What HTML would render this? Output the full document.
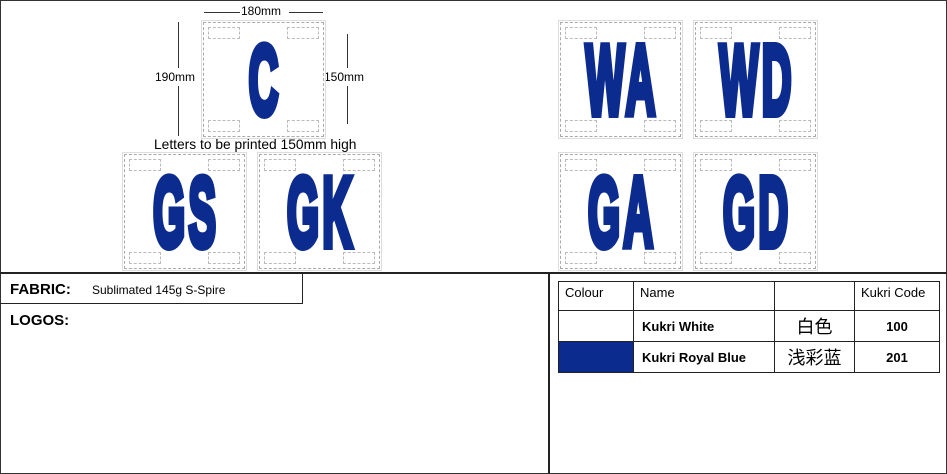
<!DOCTYPE html>
<html><head><meta charset="utf-8"><style>
*{margin:0;padding:0;box-sizing:border-box}
body{width:947px;height:474px;position:relative;background:#fff;font-family:"Liberation Sans",sans-serif;overflow:hidden}
.a{position:absolute}
.p{position:absolute;width:121px;height:115px;border:1px dashed #aaa;outline:1px solid #ddd;outline-offset:1px}
.d{position:absolute;width:32px;height:12px;border:1px dashed #bbb}
.L{position:absolute;left:-100px;right:-100px;top:50%;text-align:center;font-weight:bold;color:#0c2b8f;font-size:98px;line-height:1;white-space:nowrap;transform:translateY(-50%) scaleX(.42);letter-spacing:8px;padding-left:8px;-webkit-text-stroke:8px #0c2b8f}
td{border:1.5px solid #222;font-size:13px;padding:0 6px}
</style></head><body>
<div class="a" style="left:0;top:0;width:947px;height:474px;border:1px solid #333"></div>
<div class="a" style="left:0;top:272px;width:947px;height:2px;background:#222"></div>
<div class="a" style="left:548px;top:273px;width:2px;height:201px;background:#222"></div>
<div class="a" style="left:0;top:273px;width:303px;height:31px;border:1.5px solid #222;border-left:none"></div>
<div class="a" style="left:10px;top:281px;font-weight:bold;font-size:15px">FABRIC:</div>
<div class="a" style="left:92px;top:283px;font-size:12px">Sublimated 145g S-Spire</div>
<div class="a" style="left:10px;top:312px;font-weight:bold;font-size:15px">LOGOS:</div>

<div class="a" style="left:204px;top:12px;width:36px;height:1px;background:#333"></div>
<div class="a" style="left:241px;top:4px;font-size:12px">180mm</div>
<div class="a" style="left:289px;top:12px;width:34px;height:1px;background:#333"></div>
<div class="a" style="left:178px;top:22px;width:1px;height:114px;background:#333"></div>
<div class="a" style="left:155px;top:68px;font-size:12px;background:#fff;padding:2px 0">190mm</div>
<div class="a" style="left:347px;top:34px;width:1px;height:90px;background:#333"></div>
<div class="a" style="left:324px;top:68px;font-size:12px;background:#fff;padding:2px 0">150mm</div>
<div class="a" style="left:154px;top:137px;font-size:13.8px">Letters to be printed 150mm high</div>

<div class="p" style="left:203px;top:22px"><div class="d" style="left:4px;top:4px"></div><div class="d" style="right:4px;top:4px"></div><div class="d" style="left:4px;bottom:4px"></div><div class="d" style="right:4px;bottom:4px"></div><div class="L">C</div></div>
<div class="p" style="left:124px;top:154px"><div class="d" style="left:4px;top:4px"></div><div class="d" style="right:4px;top:4px"></div><div class="d" style="left:4px;bottom:4px"></div><div class="d" style="right:4px;bottom:4px"></div><div class="L">GS</div></div>
<div class="p" style="left:259px;top:154px"><div class="d" style="left:4px;top:4px"></div><div class="d" style="right:4px;top:4px"></div><div class="d" style="left:4px;bottom:4px"></div><div class="d" style="right:4px;bottom:4px"></div><div class="L">GK</div></div>
<div class="p" style="left:560px;top:22px"><div class="d" style="left:4px;top:4px"></div><div class="d" style="right:4px;top:4px"></div><div class="d" style="left:4px;bottom:4px"></div><div class="d" style="right:4px;bottom:4px"></div><div class="L">WA</div></div>
<div class="p" style="left:695px;top:22px"><div class="d" style="left:4px;top:4px"></div><div class="d" style="right:4px;top:4px"></div><div class="d" style="left:4px;bottom:4px"></div><div class="d" style="right:4px;bottom:4px"></div><div class="L">WD</div></div>
<div class="p" style="left:560px;top:154px"><div class="d" style="left:4px;top:4px"></div><div class="d" style="right:4px;top:4px"></div><div class="d" style="left:4px;bottom:4px"></div><div class="d" style="right:4px;bottom:4px"></div><div class="L">GA</div></div>
<div class="p" style="left:695px;top:154px"><div class="d" style="left:4px;top:4px"></div><div class="d" style="right:4px;top:4px"></div><div class="d" style="left:4px;bottom:4px"></div><div class="d" style="right:4px;bottom:4px"></div><div class="L">GD</div></div>

<table class="a" style="left:558px;top:281px;width:382px;height:91px;border-collapse:collapse">
<tr style="height:29px"><td style="width:75px;vertical-align:top;padding-top:3px">Colour</td><td style="width:141px;vertical-align:top;padding-top:3px">Name</td><td style="width:80px"></td><td style="vertical-align:top;padding-top:3px">Kukri Code</td></tr>
<tr style="height:31px"><td></td><td style="font-weight:bold;padding-left:8px">Kukri White</td><td style="text-align:center;font-size:18px;font-family:'Noto Sans CJK SC',sans-serif">白色</td><td style="text-align:center;font-weight:bold">100</td></tr>
<tr style="height:31px"><td style="background:#0c2b8f"></td><td style="font-weight:bold;padding-left:8px">Kukri Royal Blue</td><td style="text-align:center;font-size:18px;font-family:'Noto Sans CJK SC',sans-serif">浅彩蓝</td><td style="text-align:center;font-weight:bold">201</td></tr>
</table>
</body></html>
